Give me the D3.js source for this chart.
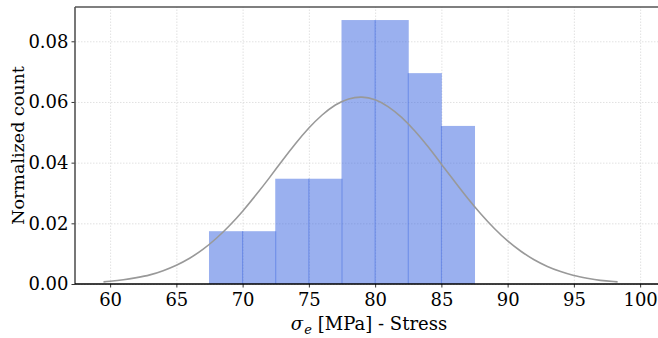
<!DOCTYPE html>
<html>
<head>
<meta charset="utf-8">
<script src="https://cdn.jsdelivr.net/npm/d3@7"></script>
<style>
  body { margin: 0; background: #fff; }
  svg { display: block; }
  .axis text { font-family: "DejaVu Serif", serif; font-size: 18px; fill: #000; }
  .axis .domain { display: none; }
  .grid line { stroke: #d9d9d9; stroke-width: 0.8; stroke-dasharray: 1.5 1.5; }
  .grid .domain { display: none; }
</style>
</head>
<body>
<svg id="chart" width="658" height="338"></svg>
<script>
// histogram bins (2.5 MPa wide) and density heights
const binEdges = [67.5, 70, 72.5, 75, 77.5, 80, 82.5, 85, 87.5];
const binDensity = [0.0174, 0.0174, 0.0347, 0.0347, 0.0870, 0.0870, 0.0695, 0.0521];

// fitted normal curve
const curveX = [59.5, 60, 61, 62, 63, 64, 65, 66, 67, 68, 69, 70, 71, 72, 73, 74, 75, 76, 77, 78, 79,
    80, 81, 82, 83, 84, 85, 86, 87, 88, 89, 90, 91, 92, 93, 94, 95, 96, 97, 98, 98.3];
const curveY = [0.0007, 0.0009, 0.0014, 0.0021, 0.0030, 0.0044, 0.0062, 0.0085, 0.0114, 0.0150, 0.0192,
    0.0240, 0.0293, 0.0349, 0.0407, 0.0463, 0.0514, 0.0557, 0.0590, 0.0610, 0.0616,
    0.0607, 0.0584, 0.0549, 0.0504, 0.0452, 0.0395, 0.0338, 0.0282, 0.0230, 0.0183,
    0.0142, 0.0108, 0.0080, 0.0058, 0.0041, 0.0028, 0.0019, 0.0012, 0.0008, 0.0007];

const xTicks = [60, 65, 70, 75, 80, 85, 90, 95, 100];
const yTicks = [0, 0.02, 0.04, 0.06, 0.08];

const svg = d3.select("#chart");
const margin = { top: 7, right: -4, bottom: 54, left: 75 },
    width = +svg.attr("width") - margin.left - margin.right,
    height = +svg.attr("height") - margin.top - margin.bottom;

const g = svg.append("g").attr("transform", "translate(" + margin.left + "," + margin.top + ")");

const x = d3.scaleLinear().domain([57.35, 101.65]).range([0, width]);
const y = d3.scaleLinear().domain([0, 0.0913]).range([height, 0]);

// grid
g.append("g")
    .attr("class", "grid")
    .attr("transform", "translate(0," + height + ")")
    .call(d3.axisBottom(x).tickValues(xTicks).tickSize(-height).tickFormat(""));
g.append("g")
    .attr("class", "grid")
    .call(d3.axisLeft(y).tickValues(yTicks).tickSize(-width).tickFormat(""));

// bars, slightly overlapped so shared edges come out darker
const bins = binDensity.map((d, i) => ({ x0: binEdges[i], x1: binEdges[i + 1], density: d }));
g.append("g")
    .selectAll("rect")
    .data(bins)
    .enter()
    .append("rect")
    .attr("x", d => x(d.x0) - 0.5)
    .attr("width", d => x(d.x1) - x(d.x0) + 1)
    .attr("y", d => y(d.density))
    .attr("height", d => height - y(d.density))
    .attr("fill", "#4169e1")
    .attr("fill-opacity", 0.53);

// normal fit
const line = d3.line()
    .x(d => x(d[0]))
    .y(d => y(d[1]))
    .curve(d3.curveNatural);
g.append("path")
    .datum(d3.zip(curveX, curveY))
    .attr("fill", "none")
    .attr("stroke", "#999999")
    .attr("stroke-width", 1.6)
    .attr("d", line);

// axes
const xAxis = g.append("g")
    .attr("class", "axis")
    .attr("transform", "translate(0," + height + ")")
    .call(d3.axisBottom(x).tickValues(xTicks).tickSize(3.5).tickPadding(6).tickFormat(d3.format("d")));
xAxis.selectAll(".tick line").attr("stroke", "#000").attr("stroke-width", 0.8);

const yAxis = g.append("g")
    .attr("class", "axis")
    .call(d3.axisLeft(y).tickValues(yTicks).tickSize(3.5).tickPadding(3).tickFormat(d3.format(".2f")));
yAxis.selectAll(".tick line").attr("stroke", "#000").attr("stroke-width", 0.8);

// spines
g.append("line")
    .attr("x1", 0).attr("x2", 0).attr("y1", 0).attr("y2", height)
    .attr("stroke", "#555").attr("stroke-width", 1.6);
g.append("line")
    .attr("x1", 0).attr("x2", width).attr("y1", 0).attr("y2", 0)
    .attr("stroke", "#555").attr("stroke-width", 1.6);
g.append("line")
    .attr("x1", width).attr("x2", width).attr("y1", 0).attr("y2", height)
    .attr("stroke", "#555").attr("stroke-width", 1.6);
g.append("line")
    .attr("x1", 0).attr("x2", width).attr("y1", height).attr("y2", height)
    .attr("stroke", "#000").attr("stroke-width", 1.3);

// axis labels
const xLabel = svg.append("text")
    .attr("x", 369)
    .attr("y", 330)
    .attr("text-anchor", "middle")
    .attr("font-family", "DejaVu Serif, serif")
    .attr("font-size", 18);
xLabel.append("tspan").attr("font-style", "italic").text("σ");
xLabel.append("tspan").attr("font-style", "italic").attr("font-size", 13).attr("dx", 1).attr("dy", 4).text("e");
xLabel.append("tspan").attr("dx", 6).attr("dy", -4).text("[MPa] - Stress");

svg.append("text")
    .attr("transform", "translate(24," + (7 + height / 2) + ") rotate(-90)")
    .attr("text-anchor", "middle")
    .attr("font-family", "DejaVu Serif, serif")
    .attr("font-size", 17.5)
    .text("Normalized count");
</script>
</body>
</html>
